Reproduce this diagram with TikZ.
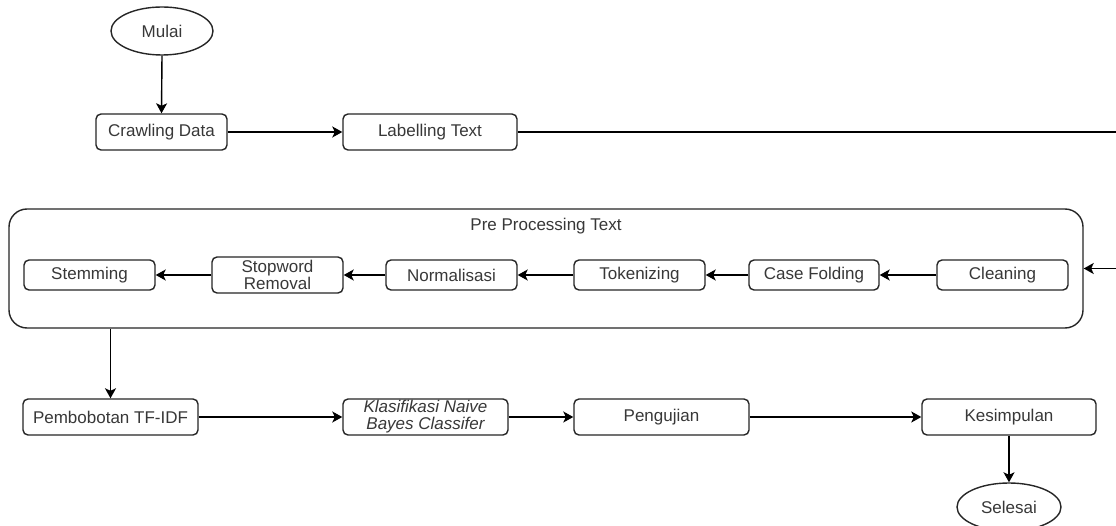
\documentclass[tikz,border=0pt]{standalone}
\usepackage{fontspec}
\setmainfont{Liberation Sans}
\usetikzlibrary{shapes.geometric,arrows.meta}
\begin{document}
\begin{tikzpicture}[x=1pt,y=-1pt,
  every node/.style={font=\fontsize{17}{17}\selectfont, text=black!78, inner sep=0pt, align=center},
  proc/.style={draw=black!85, line width=1.4pt, rounded corners=5pt, fill=white},
  term/.style={draw=black!85, line width=1.4pt, ellipse, fill=white},
  group/.style={draw=black!85, line width=1.4pt, rounded corners=18pt},
  flow/.style={draw=black, line width=1.4pt, -{Stealth[length=10pt,width=11pt,inset=2.5pt]}}
]
\useasboundingbox (0,0) rectangle (1116,526);
\fill[white] (0,0) rectangle (1116,526);

% top row
\node[term, minimum width=102pt, minimum height=48pt] (mulai) at (162,31) {Mulai};
\node[proc, minimum width=131pt, minimum height=36pt] (crawl) at (161.5,132) {Crawling Data};
\node[proc, minimum width=174pt, minimum height=36pt] (label) at (430,132) {Labelling Text};

% pre processing group
\node[group, minimum width=1074pt, minimum height=119pt] (pre) at (546,268.5) {};
\node (pretitle) at (546,226) {Pre Processing Text};
\node[proc, minimum width=131pt, minimum height=30pt] (stem) at (89.5,275) {Stemming};
\node[proc, minimum width=131pt, minimum height=36pt] (stop) at (277.5,275) {Stopword\\Removal};
\node[proc, minimum width=131pt, minimum height=30pt] (norm) at (451.5,275) {Normalisasi};
\node[proc, minimum width=131pt, minimum height=30pt] (tok) at (639.5,275) {Tokenizing};
\node[proc, minimum width=130pt, minimum height=30pt] (cf) at (814,275) {Case Folding};
\node[proc, minimum width=131pt, minimum height=30pt] (clean) at (1002.5,275) {Cleaning};

% bottom row
\node[proc, minimum width=175pt, minimum height=36pt] (tfidf) at (110.5,417) {Pembobotan TF-IDF};
\node[proc, minimum width=165pt, minimum height=36pt, font=\fontsize{17}{17}\selectfont\itshape] (nb) at (425.5,417) {Klasifikasi Naive\\Bayes Classifer};
\node[proc, minimum width=175pt, minimum height=36pt] (uji) at (661.5,417) {Pengujian};
\node[proc, minimum width=174pt, minimum height=36pt] (kes) at (1009,417) {Kesimpulan};
\node[term, minimum width=104pt, minimum height=48pt] (selesai) at (1009,507) {Selesai};

\coordinate (c1) at (1124,132);
\coordinate (c2) at (1124,268.5);

% connectors
\draw[flow] (mulai.south) -- (crawl.north);
\draw[flow] (crawl.east) -- (label.west);
\draw[flow] (label.east) -- (c1) -- (c2) -- (pre.east);
\draw[flow] (clean.west) -- (cf.east);
\draw[flow] (cf.west) -- (tok.east);
\draw[flow] (tok.west) -- (norm.east);
\draw[flow] (norm.west) -- (stop.east);
\draw[flow] (stop.west) -- (stem.east);
\draw[flow] (pre.south -| tfidf.north) -- (tfidf.north);
\draw[flow] (tfidf.east) -- (nb.west);
\draw[flow] (nb.east) -- (uji.west);
\draw[flow] (uji.east) -- (kes.west);
\draw[flow] (kes.south) -- (selesai.north);
\end{tikzpicture}
\end{document}
